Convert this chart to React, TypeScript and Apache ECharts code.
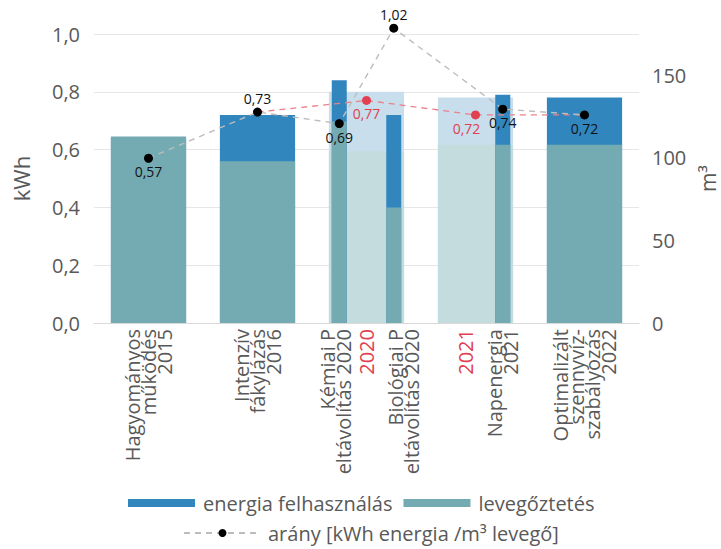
import React, { useEffect, useRef } from 'react';
import * as echarts from 'echarts';

// Yearly bars (wide) — energy on the kWh axis, aeration on the m³ axis
const categories = ['2015', '2016', '2020', '2021', '2022'];
const highlightedYears = ['2020', '2021'];
const energyByYear = [0.64, 0.72, 0.8, 0.78, 0.78];
const aerationByYear = [113, 98, 104, 108, 108];
const yearlyRatio = [null, 0.73, 0.77, 0.72, 0.72];

// Individual projects (narrow bars) on the 0..5 slot scale
const projectSlots = [2.25, 2.75, 3.75];
const energyByProject = [0.84, 0.72, 0.79];
const aerationByProject = [122, 70, 108];

// Ratio points: kWh energy / m³ air
const ratioSlots = [0.5, 1.5, 2.25, 2.75, 3.75, 4.5];
const ratioValues = [0.57, 0.73, 0.69, 1.02, 0.74, 0.72];
const ratioLabelSides = ['bottom', 'top', 'bottom', 'top', 'bottom', 'bottom'];

// Category labels under the axis
const xLabelSlots = [0.5, 1.5, 2.22, 2.5, 2.84, 3.41, 3.75, 4.5];
const xLabelTexts = [
  'Hagyományos\nműködés\n2015',
  'Intenzív\nfákylázás\n2016',
  'Kémiai P\neltávolítás 2020',
  '2020',
  'Biológiai P\neltávolítás 2020',
  '2021',
  'Napenergia\n2021',
  'Optimalizált\nszennyvíz-\nszabályozás\n2022',
];

const BLUE = '#3186be';
const TEAL = '#74abb3';
const LIGHT_BLUE = '#c8deed';
const LIGHT_TEAL = '#c4dcdd';
const RED = '#e0404f';
const RED_LINE = '#ec8089';
const GRAY_LINE = '#bdbdbd';
const TEXT = '#595959';
const GRID = '#e6e6e6';
const FONT = 'Open Sans';

const comma = (v: number, d: number) => v.toFixed(d).replace('.', ',');
const slotIndex = (v: any) => xLabelSlots.findIndex((s) => Math.abs(s - Number(v)) < 1e-6);

export default function App() {
  const ref = useRef<HTMLDivElement>(null);

  useEffect(() => {
    if (!ref.current) return;
    const chart = echarts.init(ref.current, null, { renderer: 'svg' });

    const isHighlighted = (i: number) => highlightedYears.includes(categories[i]);

    const option: any = {
      animation: false,
      textStyle: { fontFamily: FONT },
      grid: {
        left: 94,
        right: 82,
        top: 34,
        bottom: 226,
        containLabel: false,
        outerBoundsMode: 'none',
      },
      legend: [
        {
          data: ['energia felhasználás', 'levegőztetés'],
          left: 123,
          top: 488,
          itemWidth: 67,
          itemHeight: 8,
          itemGap: 11,
          icon: 'rect',
          textStyle: { fontSize: 20, color: TEXT, fontFamily: FONT, padding: [0, 0, 0, 3] },
        },
        {
          data: ['arány [kWh energia /m³ levegő]'],
          left: 178,
          top: 518,
          itemWidth: 77,
          itemHeight: 10,
          textStyle: { fontSize: 20, color: TEXT, fontFamily: FONT, padding: [0, 0, 0, 2] },
        },
      ],
      xAxis: [
        {
          type: 'category',
          data: categories,
          boundaryGap: true,
          axisLine: { show: true, lineStyle: { color: '#d9d9d9', width: 1 } },
          axisTick: { show: false },
          axisLabel: { show: false },
          splitLine: { show: false },
        },
        {
          type: 'value',
          min: 0,
          max: 5,
          position: 'bottom',
          axisLine: { show: false },
          axisTick: { show: false },
          splitLine: { show: false },
          axisLabel: {
            customValues: xLabelSlots,
            rotate: 90,
            margin: 6,
            fontSize: 20,
            lineHeight: 16,
            fontFamily: FONT,
            color: (v: any) => {
              const i = slotIndex(v);
              return i >= 0 && highlightedYears.includes(xLabelTexts[i]) ? RED : TEXT;
            },
            formatter: (v: number) => {
              const i = slotIndex(v);
              return i >= 0 ? xLabelTexts[i] : '';
            },
          },
        },
      ],
      yAxis: [
        {
          type: 'value',
          min: 0,
          max: 1,
          interval: 0.2,
          name: 'kWh',
          nameLocation: 'middle',
          nameRotate: 90,
          nameGap: 62,
          nameTextStyle: { fontSize: 22, color: TEXT, fontFamily: FONT },
          axisLine: { show: false },
          axisTick: { show: false },
          splitLine: { lineStyle: { color: GRID, width: 1 } },
          axisLabel: {
            fontSize: 20,
            color: TEXT,
            margin: 14,
            formatter: (v: number) => comma(v, 1),
          },
        },
        {
          type: 'value',
          min: 0,
          max: 175,
          interval: 50,
          name: 'm³',
          nameLocation: 'middle',
          nameRotate: 90,
          nameGap: 58,
          nameTextStyle: { fontSize: 21, color: TEXT, fontFamily: FONT },
          axisLine: { show: false },
          axisTick: { show: false },
          splitLine: { show: false },
          axisLabel: {
            fontSize: 20,
            color: TEXT,
            margin: 13,
            showMaxLabel: false,
          },
        },
      ],
      series: [
        {
          name: 'energia felhasználás',
          type: 'bar',
          xAxisIndex: 0,
          yAxisIndex: 0,
          barWidth: '69%',
          barGap: '-100%',
          itemStyle: { color: BLUE },
          data: energyByYear.map((v, i) =>
            isHighlighted(i) ? { value: v, itemStyle: { color: LIGHT_BLUE } } : v
          ),
        },
        {
          name: 'levegőztetés',
          type: 'bar',
          xAxisIndex: 0,
          yAxisIndex: 1,
          barWidth: '69%',
          barGap: '-100%',
          itemStyle: { color: TEAL },
          data: aerationByYear.map((v, i) =>
            isHighlighted(i) ? { value: v, itemStyle: { color: LIGHT_TEAL } } : v
          ),
        },
        {
          name: 'energia felhasználás',
          type: 'bar',
          xAxisIndex: 1,
          yAxisIndex: 0,
          barWidth: 15,
          barGap: '-100%',
          itemStyle: { color: BLUE },
          data: projectSlots.map((x, i) => [x, energyByProject[i]]),
        },
        {
          name: 'levegőztetés',
          type: 'bar',
          xAxisIndex: 1,
          yAxisIndex: 1,
          barWidth: 15,
          barGap: '-100%',
          itemStyle: { color: TEAL },
          data: projectSlots.map((x, i) => [x, aerationByProject[i]]),
        },
        {
          name: 'éves arány',
          type: 'line',
          xAxisIndex: 0,
          yAxisIndex: 0,
          symbol: 'circle',
          clip: false,
          lineStyle: { color: RED_LINE, width: 1.3, type: [6, 5] },
          itemStyle: { color: RED },
          data: yearlyRatio.map((v, i) =>
            v == null
              ? null
              : {
                  value: v,
                  symbolSize: isHighlighted(i) ? 9 : 0,
                  label: {
                    show: isHighlighted(i),
                    position: 'bottom',
                    distance: 2,
                    offset: categories[i] === '2021' ? [-9, 0] : [0, 0],
                    color: RED,
                    fontSize: 14,
                    fontFamily: FONT,
                    formatter: (p: any) => comma(p.value, 2),
                  },
                }
          ),
          z: 3,
        },
        {
          name: 'arány [kWh energia /m³ levegő]',
          type: 'line',
          xAxisIndex: 1,
          yAxisIndex: 0,
          symbol: 'circle',
          symbolSize: 9,
          clip: false,
          lineStyle: { color: GRAY_LINE, width: 1.4, type: [6, 5] },
          itemStyle: { color: '#000000' },
          label: {
            show: true,
            fontSize: 14,
            color: '#111111',
            fontFamily: FONT,
            distance: 2,
            formatter: (p: any) => comma(p.value[1], 2),
          },
          data: ratioSlots.map((x, i) => ({
            value: [x, ratioValues[i]],
            label: { position: ratioLabelSides[i] },
          })),
          z: 4,
        },
      ],
    };

    chart.setOption(option);
    return () => chart.dispose();
  }, []);

  return (
    <div
      ref={ref}
      style={{ position: 'fixed', left: 0, top: 0, width: 721, height: 549, background: '#ffffff' }}
    />
  );
}
